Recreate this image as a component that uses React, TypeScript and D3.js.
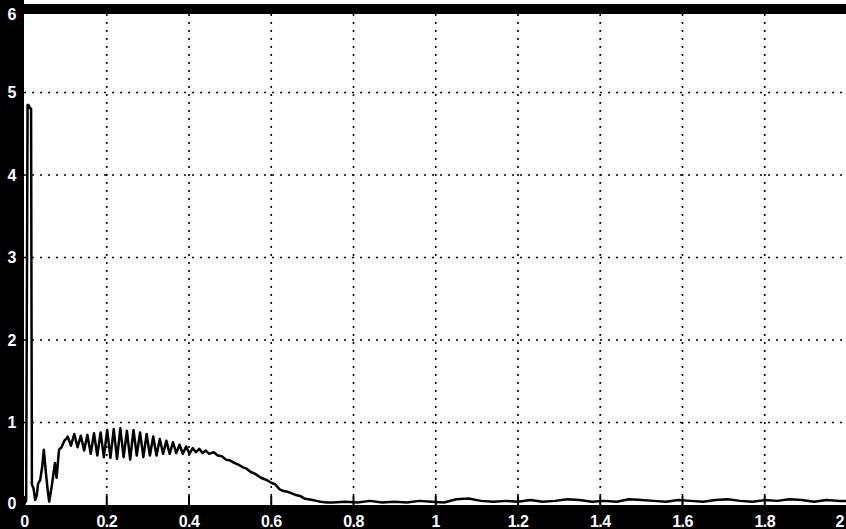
import * as d3 from "d3";
import { useEffect, useRef } from "react";

const W = 846,
  H = 529;

// time (s) and amplitude
const timeS = [
  0.0, 0.004, 0.0075, 0.0095, 0.012, 0.016, 0.018, 0.022, 0.026, 0.03, 0.033, 0.038, 0.043, 0.047,
  0.052, 0.056, 0.06, 0.066, 0.074, 0.078, 0.084, 0.09, 0.097, 0.103,
  0.105, 0.113, 0.121, 0.129, 0.137, 0.145, 0.153, 0.161, 0.169, 0.177, 0.185, 0.193, 0.201,
  0.209, 0.217, 0.225, 0.233, 0.241, 0.249, 0.257, 0.265, 0.273, 0.281, 0.289, 0.297, 0.305,
  0.313, 0.321, 0.329, 0.337, 0.345, 0.353, 0.361, 0.369, 0.377, 0.385, 0.393, 0.401, 0.409,
  0.417, 0.425, 0.433, 0.441, 0.449,
  0.46, 0.47, 0.48, 0.49, 0.5, 0.51, 0.52, 0.53, 0.54, 0.55, 0.56, 0.575, 0.59, 0.6, 0.61, 0.62,
  0.63, 0.64, 0.65, 0.66, 0.67, 0.68, 0.69, 0.7, 0.71, 0.72, 0.735, 0.75,
  0.78, 0.81, 0.84, 0.87, 0.9, 0.93, 0.96, 0.99, 1.02, 1.05, 1.08, 1.11, 1.14, 1.17, 1.2, 1.23,
  1.26, 1.29, 1.32, 1.35, 1.38, 1.41, 1.44, 1.47, 1.5, 1.53, 1.56, 1.59, 1.62, 1.65, 1.68, 1.71,
  1.74, 1.77, 1.8, 1.83, 1.86, 1.89, 1.92, 1.95, 1.98, 2.0,
];
const amp = [
  0.02, 0.05, 4.85, 4.85, 4.82, 4.8, 0.25, 0.2, 0.06, 0.12, 0.26, 0.3, 0.46, 0.67,
  0.39, 0.2, 0.04, 0.22, 0.51, 0.33, 0.67, 0.7, 0.78, 0.81,
  0.83, 0.72, 0.86, 0.7, 0.84, 0.66, 0.85, 0.62, 0.87, 0.6, 0.88, 0.58, 0.91,
  0.57, 0.92, 0.56, 0.93, 0.58, 0.9, 0.55, 0.91, 0.6, 0.88, 0.58, 0.86, 0.6,
  0.83, 0.6, 0.8, 0.62, 0.78, 0.62, 0.76, 0.63, 0.73, 0.62, 0.71, 0.62, 0.69,
  0.64, 0.68, 0.63, 0.66, 0.62,
  0.64, 0.6, 0.59, 0.55, 0.54, 0.51, 0.49, 0.46, 0.44, 0.4, 0.38, 0.33, 0.3, 0.27, 0.25, 0.19,
  0.17, 0.16, 0.14, 0.12, 0.11, 0.08, 0.07, 0.06, 0.05, 0.04, 0.03, 0.03,
  0.04, 0.03, 0.05, 0.03, 0.04, 0.03, 0.05, 0.04, 0.03, 0.07, 0.08, 0.05, 0.04, 0.05, 0.04, 0.06,
  0.04, 0.05, 0.07, 0.06, 0.04, 0.05, 0.04, 0.07, 0.06, 0.05, 0.04, 0.06, 0.05, 0.04, 0.06, 0.07,
  0.05, 0.04, 0.06, 0.05, 0.07, 0.06, 0.04, 0.06, 0.05, 0.05,
];

const xTicks = [0, 0.2, 0.4, 0.6, 0.8, 1, 1.2, 1.4, 1.6, 1.8, 2];
const yTicks = [0, 1, 2, 3, 4, 5, 6];

const App = () => {
  const ref = useRef<SVGSVGElement>(null);

  useEffect(() => {
    const svg = d3.select(ref.current);
    svg.selectAll("*").remove();

    const x = d3.scaleLinear().domain([0, 2]).range([24.5, 847]);
    const y = d3.scaleLinear().domain([0, 6]).range([505, 10]);

    svg.append("rect").attr("width", W).attr("height", H).attr("fill", "white");

    // dotted grid
    svg.append("g")
      .selectAll("line")
      .data(yTicks.filter(d => d > 0 && d < 6))
      .join("line")
      .attr("x1", 24)
      .attr("x2", W)
      .attr("y1", d => y(d))
      .attr("y2", d => y(d))
      .attr("stroke", "black")
      .attr("stroke-width", 1.6)
      .attr("stroke-dasharray", "2,6");

    svg.append("g")
      .selectAll("line")
      .data(xTicks.filter(d => d > 0 && d < 2))
      .join("line")
      .attr("x1", d => x(d))
      .attr("x2", d => x(d))
      .attr("y1", 14)
      .attr("y2", 505)
      .attr("stroke", "black")
      .attr("stroke-width", 1.6)
      .attr("stroke-dasharray", "2,6");

    // small ticks on the bottom axis
    svg.append("g")
      .selectAll("line")
      .data(xTicks)
      .join("line")
      .attr("x1", d => x(d))
      .attr("x2", d => x(d))
      .attr("y1", 496)
      .attr("y2", 505)
      .attr("stroke", "black")
      .attr("stroke-width", 2);

    // trace
    const pts = timeS.map((t, i) => [t, amp[i]] as [number, number]);
    svg.append("path")
      .datum(pts)
      .attr("fill", "none")
      .attr("stroke", "black")
      .attr("stroke-width", 2.5)
      .attr("stroke-linejoin", "round")
      .attr("d", d3.line<[number, number]>().x(d => x(d[0])).y(d => y(d[1])));

    // black frame bands
    svg.append("rect").attr("x", 0).attr("y", 0).attr("width", 24).attr("height", H).attr("fill", "black");
    svg.append("rect").attr("x", 0).attr("y", 4).attr("width", W).attr("height", 10).attr("fill", "black");
    svg.append("rect").attr("x", 0).attr("y", 505).attr("width", W).attr("height", 24).attr("fill", "black");

    // labels
    svg.append("g")
      .selectAll("text")
      .data(yTicks)
      .join("text")
      .attr("x", 12)
      .attr("y", d => (d === 6 ? 14 : d === 0 ? 503 : y(d)))
      .attr("dy", "0.35em")
      .attr("text-anchor", "middle")
      .attr("fill", "white")
      .attr("font-family", "'Liberation Sans', sans-serif")
      .attr("font-weight", "bold")
      .attr("font-size", 16)
      .text(d => d);

    svg.append("g")
      .selectAll("text")
      .data(xTicks)
      .join("text")
      .attr("x", d => (d === 2 ? W - 2 : x(d)))
      .attr("y", 521)
      .attr("dy", "0.35em")
      .attr("text-anchor", d => (d === 2 ? "end" : "middle"))
      .attr("fill", "white")
      .attr("font-family", "'Liberation Sans', sans-serif")
      .attr("font-weight", "bold")
      .attr("font-size", 16)
      .attr("letter-spacing", -0.5)
      .text(d => d);
  }, []);

  return <svg ref={ref} width={W} height={H} style={{ position: "absolute", left: 0, top: 0, display: "block" }} />;
};

export default App;
